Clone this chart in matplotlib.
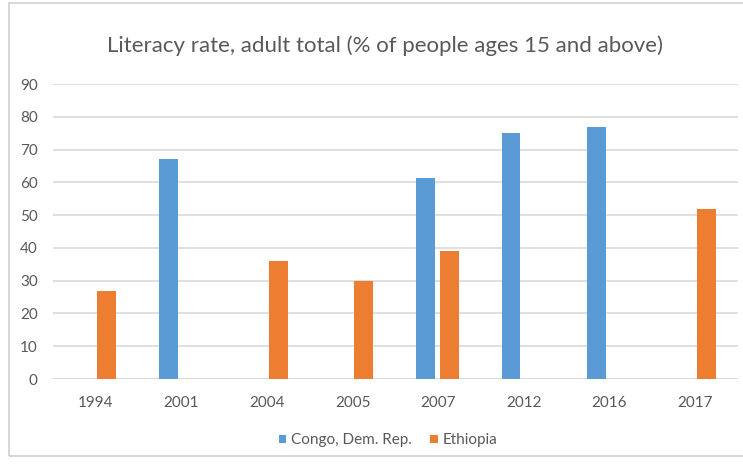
import matplotlib.pyplot as plt
import matplotlib.patches as mpatch
import numpy as np

years = ['1994', '2001', '2004', '2005', '2007', '2012', '2016', '2017']
congo = [None, 67.2, None, None, 61.2, 75.0, 77.0, None]
ethiopia = [27.0, None, 35.9, 29.8, 39.0, None, None, 51.8]

BLUE = '#5B9BD5'
ORANGE = '#ED7D31'
TXT = '#595959'

plt.rcParams['font.family'] = ['Lato', 'DejaVu Sans']

fig = plt.figure(figsize=(7.43, 4.67), dpi=100)
ax = fig.add_axes([0.0713, 0.1884, 0.9217, 0.6316])

# frame around the chart area
fig.patches.append(mpatch.Rectangle((9 / 743, 11 / 467), 1.2, 0.97, transform=fig.transFigure,
                                    fill=False, edgecolor='#d0d0d0', linewidth=1.2))

x = np.arange(len(years))
w = 0.22
for i, v in enumerate(congo):
    if v is not None:
        ax.bar(x[i] - 0.15, v, w, color=BLUE, zorder=3)
for i, v in enumerate(ethiopia):
    if v is not None:
        ax.bar(x[i] + 0.13, v, w, color=ORANGE, zorder=3)

ax.set_xlim(-0.5, len(years) - 0.5)
ax.set_ylim(0, 90)
ax.set_yticks(range(0, 91, 10))
ax.set_xticks(x)
ax.set_xticklabels(years)
ax.tick_params(length=0, colors=TXT, labelsize=11)
ax.tick_params(axis='x', pad=12)
ax.tick_params(axis='y', pad=11)
ax.grid(axis='y', color='#d9d9d9', linewidth=1.2, zorder=0)
for s in ax.spines.values():
    s.set_visible(False)
ax.axhline(0, color='#d0d0d0', linewidth=1.2, zorder=1)

fig.text(0.518, 0.903, 'Literacy rate, adult total (% of people ages 15 and above)',
         ha='center', va='center', fontsize=16, color=TXT)

ax.legend([mpatch.Rectangle((0, 0), 1, 1, fc=BLUE),
           mpatch.Rectangle((0, 0), 1, 1, fc=ORANGE)],
          ['Congo, Dem. Rep.', 'Ethiopia'],
          loc='center', bbox_to_anchor=(0.522, 0.057), bbox_transform=fig.transFigure,
          ncol=2, frameon=False, fontsize=11, labelcolor=TXT,
          handlelength=0.5, handleheight=0.5, handletextpad=0.3, columnspacing=1.2)

fig.savefig('out.png', dpi=100)
